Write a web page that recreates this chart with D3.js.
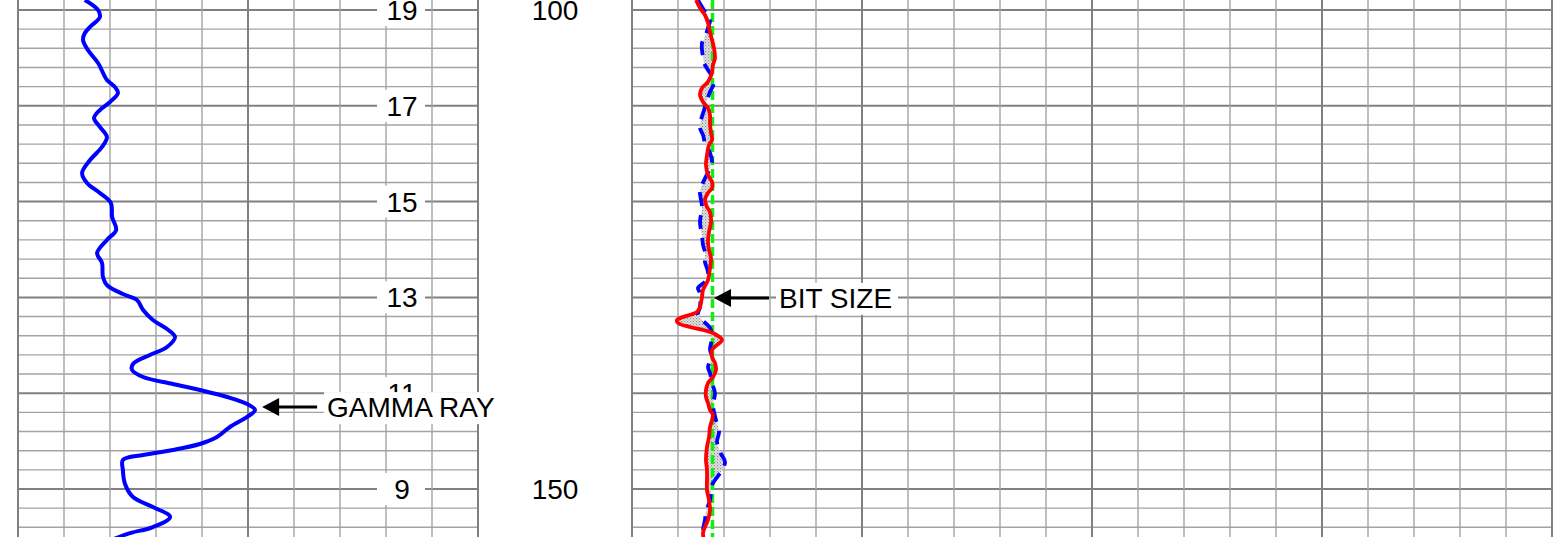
<!DOCTYPE html>
<html>
<head>
<meta charset="utf-8">
<script src="https://cdn.jsdelivr.net/npm/d3@7"></script>
<style>
    body { margin: 0; background: #ffffff; }
    text { font-family: "Liberation Sans", Arial, sans-serif; }
</style>
</head>
<body>
<svg id="log-svg" width="1568" height="537"></svg>
<script>
/** Gamma ray curve: [depth, API] **/
var gammaDepth = [98.96, 100.0, 100.73, 101.77, 102.4, 103.13, 104.18, 105.53, 107.31, 108.04, 108.66, 109.6,
    110.44, 111.27, 112.21, 113.26, 114.3, 115.66, 117.01, 118.06, 119.1, 120.15, 121.61, 122.96, 124.0,
    125.37, 126.41, 127.87, 128.71, 129.65, 130.27, 131.32, 132.36, 133.3, 134.13, 135.18, 136.01, 136.95,
    137.58, 138.31, 139.04, 139.67, 140.4, 141.13, 141.75, 142.48, 143.53, 144.57, 145.3, 145.93, 146.45,
    146.97, 148.02, 149.48, 150.84, 151.88, 152.92, 153.97, 154.7, 155.85];
var gammaValue = [21.8, 26.1, 26.7, 23.5, 21.8, 21.2, 22.8, 26.1, 29.0, 31.6, 32.6, 30.0,
    26.7, 24.8, 26.7, 29.0, 27.4, 23.5, 20.9, 22.5, 26.7, 30.3, 30.7, 32.0, 29.0,
    25.8, 27.4, 27.7, 29.0, 34.2, 38.8, 40.8, 44.0, 48.6, 51.2, 48.6, 43.0, 37.5,
    37.2, 40.8, 50.5, 59.3, 68.2, 74.7, 77.3, 74.7, 69.1, 64.9, 59.3, 50.5, 40.8,
    34.2, 34.2, 34.9, 37.5, 44.0, 49.6, 44.0, 35.5, 26.7];

/** Caliper 1 (red): [depth, inches] **/
var cal1Depth = [98.96, 99.79, 100.52, 101.36, 102.3, 103.13, 103.97, 105.01, 105.74, 106.47, 107.1, 107.62,
    108.14, 108.87, 109.6, 110.23, 110.96, 111.8, 112.84, 113.57, 114.09, 115.14, 116.18, 117.22, 117.95,
    118.58, 119.1, 119.83, 120.56, 121.09, 122.13, 123.17, 124.22, 125.05, 125.89, 126.93, 128.18, 129.23,
    129.96, 131.0, 131.52, 132.05, 132.36, 132.67, 133.09, 133.4, 133.72, 134.45, 134.97, 135.49, 136.22,
    136.85, 137.58, 138.31, 138.94, 139.67, 140.4, 141.02, 141.75, 142.28, 142.8, 143.53, 144.57, 145.62,
    146.97, 148.02, 149.06, 150.1, 151.15, 152.19, 153.24, 153.97, 154.59, 155.85];
var cal1Value = [6.696, 6.739, 6.793, 6.826, 6.848, 6.870, 6.891, 6.902, 6.880, 6.870, 6.848, 6.815,
    6.761, 6.739, 6.772, 6.826, 6.848, 6.848, 6.859, 6.870, 6.837, 6.815, 6.804, 6.826, 6.870,
    6.870, 6.826, 6.793, 6.815, 6.848, 6.859, 6.837, 6.826, 6.837, 6.859, 6.848, 6.826, 6.772,
    6.761, 6.739, 6.707, 6.554, 6.489, 6.500, 6.630, 6.772, 6.880, 6.978, 6.924, 6.870, 6.870,
    6.902, 6.913, 6.880, 6.826, 6.804, 6.804, 6.826, 6.848, 6.880, 6.870, 6.848, 6.837, 6.815,
    6.804, 6.815, 6.815, 6.815, 6.837, 6.848, 6.826, 6.793, 6.772, 6.793];

/** Caliper 2 (blue dashed): [depth, inches] **/
var cal2Depth = [98.96, 99.69, 100.52, 101.04, 101.88, 102.82, 103.44, 104.18, 104.91, 105.53, 106.26, 107.1,
    107.62, 108.56, 109.4, 110.44, 111.48, 112.32, 113.05, 113.88, 114.41, 115.87, 116.49, 118.27, 119.0,
    120.56, 122.13, 123.49, 124.53, 125.26, 126.31, 127.35, 128.18, 129.02, 129.54, 131.0, 131.84, 133.19,
    134.13, 135.49, 136.22, 137.27, 137.89, 138.94, 139.98, 141.23, 141.96, 142.8, 144.05, 145.09, 146.14,
    147.18, 148.02, 148.64, 149.58, 151.15, 152.4, 153.24, 154.28, 155.32];
var cal2Value = [6.717, 6.761, 6.815, 6.848, 6.826, 6.793, 6.761, 6.761, 6.772, 6.783, 6.826, 6.880,
    6.891, 6.848, 6.815, 6.783, 6.750, 6.739, 6.772, 6.793, 6.826, 6.870, 6.848, 6.761, 6.739,
    6.761, 6.739, 6.761, 6.772, 6.793, 6.793, 6.826, 6.815, 6.717, 6.739, 6.739, 6.717, 6.848,
    6.870, 6.848, 6.870, 6.826, 6.848, 6.870, 6.902, 6.880, 6.891, 6.913, 6.946, 6.924, 6.957,
    7.011, 6.978, 6.935, 6.870, 6.848, 6.804, 6.793, 6.772, 6.783];

/** Bit size (inches) **/
var bitSize = 6.875;

/** Depth labels and the second index shown in the gamma track **/
var depthLabels = [100, 150];
var trackLabelDepths = [100, 110, 120, 130, 140, 150];
var trackLabels = ["19", "17", "15", "13", "11", "9"];

/** Scales **/
var svg = d3.select("#log-svg");
var yScale = d3.scaleLinear().domain([100, 150]).range([10, 489]);
var xGamma = d3.scaleLinear().domain([0, 150]).range([18, 478]);
var xCal = d3.scaleLinear().domain([6, 16]).range([632, 1552]);

var gridDepths = d3.range(98, 158, 2);

/** Draw the grid of one track **/
function drawGrid(xScale, values, majorEvery){
    var g = svg.append("g");
    var x0 = xScale.range()[0], x1 = xScale.range()[1];
    g.selectAll(".hline")
        .data(gridDepths)
        .enter().append("line")
        .attr("x1", x0).attr("x2", x1)
        .attr("y1", function(d){ return yScale(d); })
        .attr("y2", function(d){ return yScale(d); })
        .attr("stroke", function(d){ return d % 10 === 0 ? "#808080" : "#a3a3a3"; })
        .attr("stroke-width", function(d){ return d % 10 === 0 ? 2 : 1.4; });
    g.selectAll(".vline")
        .data(values)
        .enter().append("line")
        .attr("x1", function(d){ return xScale(d); })
        .attr("x2", function(d){ return xScale(d); })
        .attr("y1", 0).attr("y2", 537)
        .attr("stroke", function(d, i){ return i % majorEvery === 0 ? "#808080" : "#a3a3a3"; })
        .attr("stroke-width", function(d, i){ return i % majorEvery === 0 ? 2 : 1.4; });
}
drawGrid(xGamma, d3.range(0, 151, 15), 5);
drawGrid(xCal, d3.range(0, 21).map(function(i){ return 6 + i * 0.5; }), 5);

/** Stipple pattern for the caliper difference fill **/
var pattern = svg.append("defs").append("pattern")
    .attr("id", "stipple")
    .attr("width", 3).attr("height", 3)
    .attr("patternUnits", "userSpaceOnUse");
pattern.append("rect").attr("width", 3).attr("height", 3).attr("fill", "#e6e6e6");
pattern.append("rect").attr("width", 1.2).attr("height", 1.2).attr("fill", "#8a8a8a");
pattern.append("rect").attr("x", 1.5).attr("y", 1.5).attr("width", 1.2).attr("height", 1.2).attr("fill", "#a8a8a8");

/** Build point lists **/
var gammaPts = gammaDepth.map(function(d, i){ return [xGamma(gammaValue[i]), yScale(d)]; });
var cal1Pts = cal1Depth.map(function(d, i){ return [xCal(cal1Value[i]), yScale(d)]; });
var cal2Pts = cal2Depth.map(function(d, i){ return [xCal(cal2Value[i]), yScale(d)]; });

var smoothLine = d3.line().curve(d3.curveCatmullRom.alpha(0.5));

/** Fill between the two calipers **/
svg.append("path")
    .attr("d", smoothLine(cal1Pts) + smoothLine(cal2Pts.slice().reverse()).replace("M", "L") + "Z")
    .attr("fill", "url(#stipple)")
    .attr("fill-rule", "evenodd")
    .attr("stroke", "none");

/** Bit size line **/
svg.append("line")
    .attr("x1", xCal(bitSize)).attr("x2", xCal(bitSize))
    .attr("y1", 0).attr("y2", 537)
    .attr("stroke", "#11ee11")
    .attr("stroke-width", 3.5)
    .attr("stroke-dasharray", "9,4");

/** Caliper curves **/
svg.append("path")
    .attr("d", smoothLine(cal2Pts))
    .attr("fill", "none")
    .attr("stroke", "#0000ff")
    .attr("stroke-width", 3.8)
    .attr("stroke-dasharray", "14,9");
svg.append("path")
    .attr("d", smoothLine(cal1Pts))
    .attr("fill", "none")
    .attr("stroke", "#ff0000")
    .attr("stroke-width", 3.8);

/** Gamma ray curve **/
svg.append("path")
    .attr("d", smoothLine(gammaPts))
    .attr("fill", "none")
    .attr("stroke", "#0000ff")
    .attr("stroke-width", 4);

/** Track labels with white boxes **/
var lab = svg.append("g");
trackLabelDepths.forEach(function(d, i){
    lab.append("rect")
        .attr("x", 377).attr("y", yScale(d) - 16)
        .attr("width", 48).attr("height", 32)
        .attr("fill", "#ffffff");
    lab.append("text")
        .text(trackLabels[i])
        .attr("x", 402).attr("y", yScale(d))
        .attr("dy", "0.36em")
        .attr("text-anchor", "middle")
        .style("font-size", "28px")
        .style("fill", "#000");
});
depthLabels.forEach(function(d){
    lab.append("text")
        .text(d)
        .attr("x", 555).attr("y", yScale(d))
        .attr("dy", "0.36em")
        .attr("text-anchor", "middle")
        .style("font-size", "28px")
        .style("fill", "#000");
});

/** Arrow annotation **/
function annotate(tipX, y, text, boxWidth){
    var g = svg.append("g");
    g.append("rect")
        .attr("x", tipX + 62).attr("y", y - 15)
        .attr("width", boxWidth).attr("height", 32)
        .attr("fill", "#ffffff");
    g.append("line")
        .attr("x1", tipX + 12).attr("x2", tipX + 55)
        .attr("y1", y).attr("y2", y)
        .attr("stroke", "#000").attr("stroke-width", 3);
    g.append("path")
        .attr("d", "M" + tipX + "," + y + "L" + (tipX + 17) + "," + (y - 9) + "L" + (tipX + 17) + "," + (y + 9) + "Z")
        .attr("fill", "#000");
    g.append("text")
        .text(text)
        .attr("x", tipX + 65).attr("y", y)
        .attr("dy", "0.36em")
        .style("font-size", "28px")
        .style("fill", "#000");
}
annotate(xGamma(79.6), yScale(141.45), "GAMMA RAY", 174);
annotate(xCal(bitSize) + 1.5, yScale(130.05), "BIT SIZE", 122);
</script>
</body>
</html>
